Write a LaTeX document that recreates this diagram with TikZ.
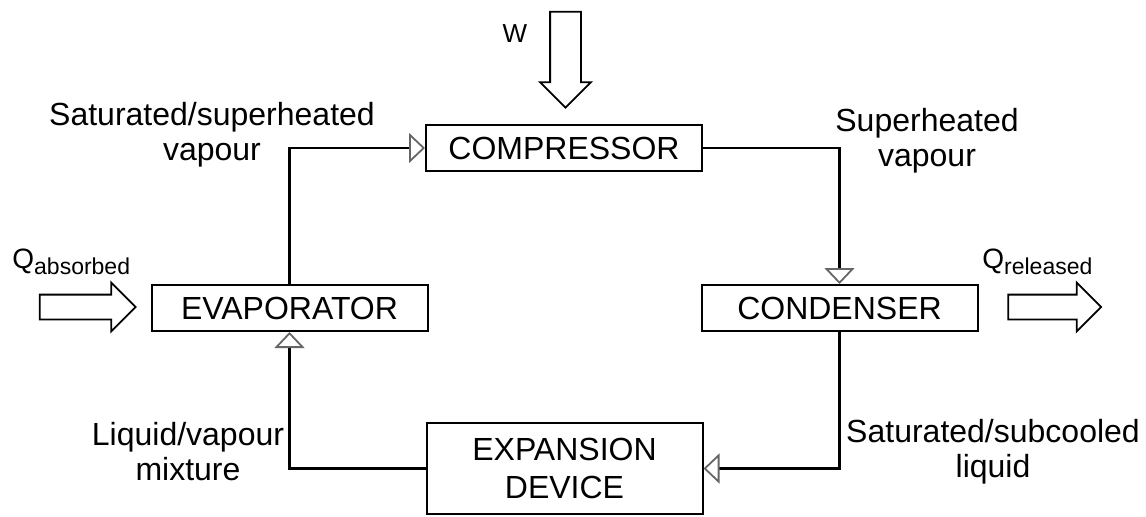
\documentclass[tikz,border=0pt]{standalone}
\usepackage{fontspec}
\setmainfont{Liberation Sans}
\usetikzlibrary{arrows.meta, shapes.arrows}

\newcommand\heatlbl[1]{{\fontsize{14}{14}\selectfont Q}\raisebox{-3pt}{\fontsize{11.5}{12}\selectfont #1}}

\begin{document}
\begin{tikzpicture}[
  x=0.5pt, y=-0.5pt,
  >={Triangle[open, length=8pt, width=15pt, color=black!60, line width=0.9pt]},
  unit/.style={draw, line width=1pt, minimum width=138pt, minimum height=23pt, inner sep=0pt, font=\fontsize{16}{17}\selectfont},
  txt/.style={align=center, inner sep=0pt, font=\fontsize{16}{17.5}\selectfont},
  heat/.style={single arrow, draw, line width=0.9pt, inner xsep=0pt, inner ysep=5.75pt,
    single arrow head extend=6pt, minimum height=48pt},
  flow/.style={line width=1.2pt},
]
  \useasboundingbox (0,0) rectangle (1146,516);

  % Row 1: compressor and work input
  \node[unit] (comp) at (564,148) {COMPRESSOR};
  \node[heat, inner ysep=7.25pt, single arrow head extend=5pt, minimum height=48pt, rotate=-90] (work) at (565.5,52) {};
  \node[txt, font=\fontsize{13}{13}\selectfont] (wlbl) at (515,34) {W};

  % Row 2: heat exchangers
  \node[unit] (evap) at (289.5,308) {EVAPORATOR};
  \node[unit] (cond) at (839.5,308) {CONDENSER};
  \node[heat] (qin) at (81.5,307) {};
  \node[heat, minimum height=46.5pt] (qout) at (1048.5,307) {};
  \node[txt, anchor=west] (qinlbl) at (12,262) {\heatlbl{absorbed}};
  \node[txt, anchor=west] (qoutlbl) at (982,262) {\heatlbl{released}};

  % Row 3: expansion device
  \node[unit, minimum height=45.5pt, text width=130pt, align=center] (expd) at (564.5,468.5) {EXPANSION\\[2pt] DEVICE};

  % State labels
  \node[txt] (s1) at (212,135) {Saturated/superheated\\vapour};
  \node[txt] (s2) at (927,141) {Superheated\\vapour};
  \node[txt] (s3) at (993,452) {Saturated/subcooled\\liquid};
  \node[txt] (s4) at (188,452) {Liquid/vapour\\mixture};

  % Refrigerant loop
  \draw[flow, ->] (evap.north) |- (comp.west);
  \draw[flow, ->] (comp.east) -| (cond.north);
  \draw[flow, ->] (cond.south) |- (expd.east);
  \draw[flow, ->] (expd.west) -| (evap.south);
\end{tikzpicture}
\end{document}
